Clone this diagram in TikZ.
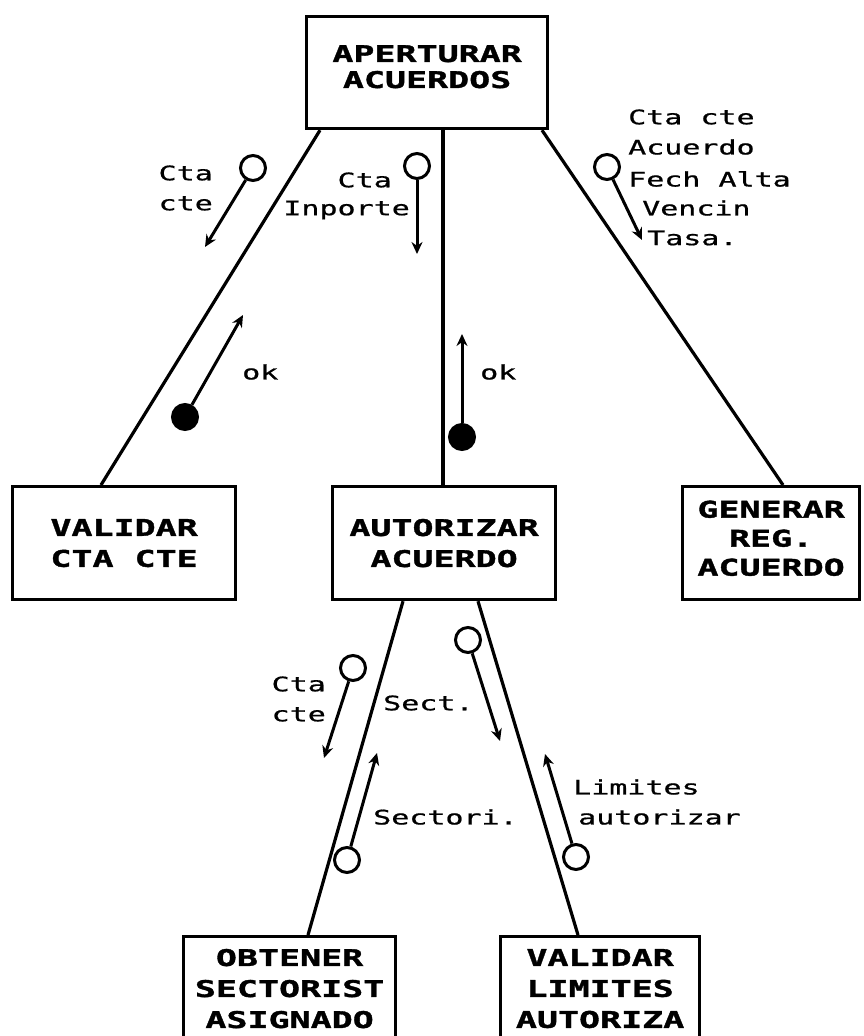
\documentclass[tikz,border=0pt]{standalone}
\usepackage{fontspec}
\usetikzlibrary{arrows.meta,calc}
\newfontfamily\boxfont{DejaVu Sans Mono}[FakeStretch=1.52,FakeBold=1.5]
\newfontfamily\lblfont{DejaVu Sans Mono}[FakeStretch=1.5,FakeBold=0.8]

\tikzset{
  modbox/.style={draw, line width=3.2pt, anchor=north west, inner sep=0pt,
    align=center, font=\boxfont\bfseries\fontsize{23}{31}\selectfont},
  link/.style={line width=3.2pt},
  cpl/.style={draw, circle, line width=3pt, minimum size=25pt, inner sep=0pt, fill=white},
  flag/.style={draw, circle, line width=3pt, minimum size=25pt, inner sep=0pt, fill=black},
  flow/.style={line width=3pt, -{Stealth[length=12pt,width=11pt]}},
  lbl/.style={inner sep=0pt, font=\lblfont\fontsize{20}{30}\selectfont},
}

\begin{document}
\begin{tikzpicture}[x=1pt,y=-1pt]
\useasboundingbox (0,0) rectangle (864,1036);
\clip (0,0) rectangle (864,1036);
\fill[white] (0,0) rectangle (864,1036);

% modules
\node[modbox, minimum width=241pt, minimum height=112pt, font=\boxfont\bfseries\fontsize{23}{26}\selectfont] (top) at (305,15)
  {APERTURAR\\ACUERDOS\\[-14pt]};
\node[modbox, minimum width=223pt, minimum height=113pt] (vcc) at (11,485)
  {VALIDAR\\CTA CTE};
\node[modbox, minimum width=223pt, minimum height=113pt] (aut) at (331,485)
  {AUTORIZAR\\ACUERDO};
\node[modbox, minimum width=177pt, minimum height=113pt, font=\boxfont\bfseries\fontsize{23}{29}\selectfont] (gen) at (681,485)
  {GENERAR\\REG.\\ACUERDO\\[-19pt]};
\node[modbox, minimum width=212pt, minimum height=104pt] (obt) at (182,935)
  {OBTENER\\SECTORIST\\ASIGNADO};
\node[modbox, minimum width=199pt, minimum height=104pt] (vlm) at (499,935)
  {VALIDAR\\LIMITES\\AUTORIZA};

% calls
\draw[link] ($(top.south west)+(15,0)$) -- ($(vcc.north west)+(90,0)$);
\draw[link] ($(top.south west)+(138,0)$) -- ($(aut.north west)+(112,0)$);
\draw[link] ($(top.south west)+(237,0)$) -- ($(gen.north west)+(102,0)$);
\draw[link] ($(aut.south west)+(72,0)$) -- ($(obt.north west)+(126,0)$);
\draw[link] ($(aut.south west)+(147,0)$) -- ($(vlm.north west)+(79,0)$);

% couples: APERTURAR -> VALIDAR CTA CTE
\node[cpl] (c1) at (253,168) {};
\coordinate (t1) at (205,247);
\draw[flow] (c1) -- (t1);
\node[lbl, align=right, anchor=east] (l1) at (213,188) {Cta\\cte};
\node[flag] (f1) at (185,417) {};
\coordinate (t2) at (243,315);
\draw[flow] (f1) -- (t2);
\node[lbl, anchor=west] (l2) at (242,372) {ok};

% couples: APERTURAR -> AUTORIZAR ACUERDO
\node[cpl] (c2) at (417,166) {};
\coordinate (t3) at (417,254);
\draw[flow] (c2) -- (t3);
\node[lbl, anchor=east] (l3) at (392,180) {Cta};
\node[lbl, anchor=east] (l4) at (410,210) {Inporte};
\node[flag] (f2) at (462,437) {};
\coordinate (t4) at (462,334);
\draw[flow] (f2) -- (t4);
\node[lbl, anchor=west] (l5) at (480,372) {ok};

% couples: APERTURAR -> GENERAR REG. ACUERDO
\node[cpl] (c3) at (607,167) {};
\coordinate (t5) at (642,240);
\draw[flow] (c3) -- (t5);
\node[lbl, anchor=west] (l6) at (628,117) {Cta cte};
\node[lbl, anchor=west] (l7) at (628,147) {Acuerdo};
\node[lbl, anchor=west] (l8) at (628,179) {Fech Alta};
\node[lbl, anchor=west] (l9) at (642,208) {Vencin};
\node[lbl, anchor=west] (l10) at (647,238) {Tasa.};

% couples: AUTORIZAR -> OBTENER SECTORIST
\node[cpl] (c4) at (353,668) {};
\coordinate (t6) at (324,758);
\draw[flow] (c4) -- (t6);
\node[lbl, align=right, anchor=east] (l11) at (326,699) {Cta\\cte};
\node[cpl] (c5) at (347,860) {};
\coordinate (t7) at (377,753);
\draw[flow] (c5) -- (t7);
\node[lbl, anchor=west] (l12) at (373,817) {Sectori.};
\node[lbl, anchor=west] (l13) at (383,703) {Sect.};

% couples: AUTORIZAR -> VALIDAR LIMITES
\node[cpl] (c6) at (468,640) {};
\coordinate (t8) at (500,741);
\draw[flow] (c6) -- (t8);
\node[cpl] (c7) at (576,857) {};
\coordinate (t9) at (545,754);
\draw[flow] (c7) -- (t9);
\node[lbl, anchor=west] (l14) at (573,787) {Limites};
\node[lbl, anchor=west] (l15) at (578,817) {autorizar};
\end{tikzpicture}
\end{document}
